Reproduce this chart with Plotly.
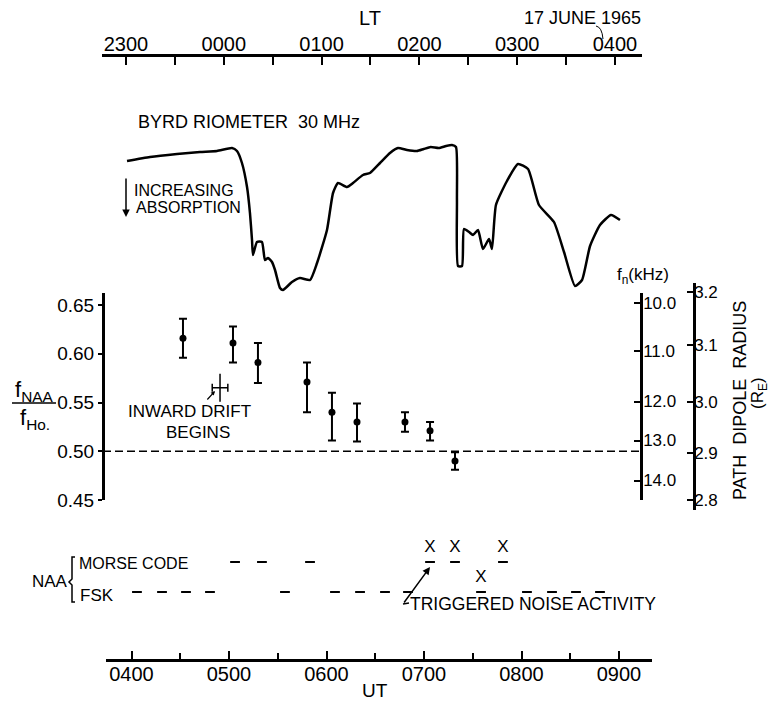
import plotly.graph_objects as go

W, H = 771, 702

# ---------------- data ----------------
ut_tick_vals = [4, 5, 6, 7, 8, 9]
ut_tick_text = ["0400", "0500", "0600", "0700", "0800", "0900"]
ut_minor_vals = [4.5, 5.5, 6.5, 7.5, 8.5]
lt_tick_vals = [-1, 0, 1, 2, 3, 4]
lt_tick_text = ["2300", "0000", "0100", "0200", "0300", "0400"]
lt_minor_vals = [-0.5, 0.5, 1.5, 2.5, 3.5]

# Byrd riometer 30 MHz (UT hours, relative signal level, arbitrary units)
rio_ut = [3.954, 4.190, 4.467, 4.703, 4.877, 5.031, 5.082, 5.133, 5.185, 5.215,
          5.236, 5.246, 5.287, 5.338, 5.369, 5.400, 5.441, 5.472, 5.523, 5.554,
          5.646, 5.728, 5.831, 5.903, 6.005, 6.067, 6.118, 6.210, 6.272, 6.374,
          6.446, 6.549, 6.651, 6.733, 6.826, 6.928, 6.997, 7.069, 7.151, 7.226,
          7.287, 7.328, 7.338, 7.349, 7.390, 7.410, 7.462, 7.503, 7.554, 7.605,
          7.667, 7.697, 7.738, 7.851, 7.964, 8.067, 8.179, 8.333, 8.436, 8.549,
          8.621, 8.703, 8.805, 8.918, 9.010]
rio_level = [13.9, 14.3, 14.6, 14.8, 14.9, 15.2, 14.9, 13.7, 11.3, 8.7,
             6.0, 4.5, 5.8, 5.8, 4.0, 4.2, 3.8, 3.0, 1.2, 1.0,
             1.8, 2.2, 2.0, 3.7, 7.0, 10.7, 11.7, 11.3, 11.7, 12.5,
             12.7, 13.7, 14.7, 15.2, 15.0, 14.9, 15.1, 15.3, 15.2, 15.4,
             15.5, 15.3, 10.0, 3.4, 3.4, 7.1, 6.8, 6.5, 7.0, 5.1,
             6.1, 5.1, 9.5, 11.9, 13.6, 13.1, 9.5, 7.8, 4.8, 1.4,
             2.0, 5.4, 7.5, 8.5, 8.0]

# f_NAA / f_H0 ratio with error bars
ratio_ut = [4.528, 5.041, 5.297, 5.800, 6.056, 6.313, 6.805, 7.062, 7.318]
ratio_val = [0.616, 0.611, 0.591, 0.571, 0.540, 0.530, 0.530, 0.521, 0.490]
ratio_err_plus = [0.020, 0.017, 0.020, 0.020, 0.020, 0.019, 0.010, 0.009, 0.009]
ratio_err_minus = [0.020, 0.020, 0.021, 0.031, 0.029, 0.020, 0.010, 0.010, 0.009]

drift_ut = [4.908]
drift_ratio = [0.565]
drift_ut_err = [0.08]

ratio_ref = 0.50
ratio_tick_vals = [0.45, 0.50, 0.55, 0.60, 0.65]
ratio_tick_text = ["0.45", "0.50", "0.55", "0.60", "0.65"]
fn_tick_text = ["10.0", "11.0", "12.0", "13.0", "14.0"]
fn_tick_ratio = [0.652, 0.603, 0.551, 0.511, 0.470]
radius_tick_text = ["3.2", "3.1", "3.0", "2.9", "2.8"]
radius_tick_ratio = [0.6636, 0.609, 0.5505, 0.4982, 0.450]

# NAA transmissions (UT hours)
morse_ut = [5.062, 5.338, 5.831]
fsk_ut = [4.056, 4.313, 4.559, 4.805, 5.574, 6.087, 6.344, 6.600, 6.836,
          8.056, 8.313, 8.559, 8.805]
morse_noise_ut = [7.062, 7.318, 7.810]
fsk_noise_ut = [7.585]
MORSE_LEVEL = 1
FSK_LEVEL = 0

# ---------------- layout helpers ----------------
def px(x):
    return x / W


def py(y):
    return 1 - y / H


NUM_FONT = "Liberation Sans, Arial, sans-serif"
TXT_FONT = "Liberation Sans, Arial, sans-serif"

fig = go.Figure()

# riometer
fig.add_trace(go.Scatter(
    x=rio_ut, y=rio_level, xaxis="x", yaxis="y2", mode="lines",
    line=dict(color="black", width=2.5, shape="spline", smoothing=0.5),
    hoverinfo="skip", showlegend=False))

# ratio points
fig.add_trace(go.Scatter(
    x=ratio_ut, y=ratio_val, xaxis="x", yaxis="y", mode="markers",
    marker=dict(color="black", size=7),
    error_y=dict(type="data", symmetric=False, array=ratio_err_plus,
                 arrayminus=ratio_err_minus, color="black", thickness=2, width=4),
    showlegend=False))

# inward drift marker
fig.add_trace(go.Scatter(
    x=drift_ut, y=drift_ratio, xaxis="x", yaxis="y", mode="markers",
    marker=dict(symbol="line-ns", size=20, line=dict(color="black", width=1.5)),
    error_x=dict(type="data", array=drift_ut_err, color="black", thickness=1.5, width=4),
    showlegend=False))

# NAA dashes
fig.add_trace(go.Scatter(
    x=morse_ut, y=[MORSE_LEVEL] * len(morse_ut), xaxis="x", yaxis="y3", mode="markers",
    marker=dict(symbol="line-ew", size=7, line=dict(color="black", width=2)),
    showlegend=False))
fig.add_trace(go.Scatter(
    x=fsk_ut, y=[FSK_LEVEL] * len(fsk_ut), xaxis="x", yaxis="y3", mode="markers",
    marker=dict(symbol="line-ew", size=7, line=dict(color="black", width=2)),
    showlegend=False))
# triggered noise (X over a dash)
fig.add_trace(go.Scatter(
    x=morse_noise_ut + fsk_noise_ut,
    y=[MORSE_LEVEL] * len(morse_noise_ut) + [FSK_LEVEL] * len(fsk_noise_ut),
    xaxis="x", yaxis="y3", mode="markers+text", text=["X"] * 4,
    textposition="top center",
    textfont=dict(family=TXT_FONT, size=17, color="black"),
    marker=dict(symbol="line-ew", size=7, line=dict(color="black", width=2)),
    cliponaxis=False, showlegend=False))

# invisible anchors so extra axes are drawn
fig.add_trace(go.Scatter(x=[0], y=[0.5], xaxis="x2", yaxis="y", mode="markers",
                         marker=dict(opacity=0), hoverinfo="skip", showlegend=False))
fig.add_trace(go.Scatter(x=[5], y=[0.5], xaxis="x", yaxis="y4", mode="markers",
                         marker=dict(opacity=0), hoverinfo="skip", showlegend=False))
fig.add_trace(go.Scatter(x=[5], y=[0.5], xaxis="x", yaxis="y5", mode="markers",
                         marker=dict(opacity=0), hoverinfo="skip", showlegend=False))

axis_common = dict(showgrid=False, zeroline=False, showline=True, linecolor="black",
                   tickcolor="black", fixedrange=True, automargin=False)

ratio_range = [0.45, 0.6623]

fig.update_layout(
    width=W, height=H, margin=dict(l=0, r=0, t=0, b=0, pad=0, autoexpand=False),
    paper_bgcolor="white", plot_bgcolor="rgba(0,0,0,0)", showlegend=False,
    xaxis=dict(**axis_common, domain=[px(106), px(652)], range=[3.7385, 9.3385],
               anchor="free", position=py(660), side="bottom", linewidth=3,
               ticks="inside", ticklen=8, tickwidth=1.5,
               tickmode="array", tickvals=ut_tick_vals, ticktext=ut_tick_text,
               ticklabelstandoff=-5,
               tickfont=dict(family=NUM_FONT, size=20, color="black"),
               minor=dict(tickmode="array", tickvals=ut_minor_vals, ticks="inside",
                          ticklen=6, tickwidth=1.5, tickcolor="black")),
    xaxis2=dict(**axis_common, domain=[px(102), px(642)], range=[-1.245, 4.276],
                anchor="free", position=py(55), side="top", linewidth=3,
                ticks="inside", ticklen=8, tickwidth=1.5,
                tickmode="array", tickvals=lt_tick_vals, ticktext=lt_tick_text,
                ticklabelstandoff=-5,
                tickfont=dict(family=NUM_FONT, size=20, color="black"),
                minor=dict(tickmode="array", tickvals=lt_minor_vals, ticks="inside",
                           ticklen=8, tickwidth=1.5, tickcolor="black")),
    yaxis=dict(**axis_common, domain=[py(500), py(293)], range=ratio_range,
               anchor="free", position=px(103), side="left", linewidth=3,
               ticks="outside", ticklen=4, tickwidth=1.5,
               tickmode="array", tickvals=ratio_tick_vals, ticktext=ratio_tick_text,
               tickfont=dict(family=NUM_FONT, size=19, color="black")),
    yaxis2=dict(domain=[py(300), py(130)], range=[0, 17], visible=False,
                fixedrange=True, automargin=False),
    yaxis3=dict(domain=[py(620), py(530)], range=[-0.933, 2.067], visible=False,
                fixedrange=True, automargin=False),
    yaxis4=dict(**axis_common, overlaying="y", range=ratio_range, anchor="free",
                position=px(641), side="right", linewidth=2.5,
                ticks="inside", ticklen=6, tickwidth=1.5,
                tickmode="array", tickvals=fn_tick_ratio, ticktext=fn_tick_text,
                ticklabelstandoff=-3,
                tickfont=dict(family=NUM_FONT, size=17, color="black")),
    yaxis5=dict(**axis_common, domain=[py(510), py(283)], range=[0.4397, 0.6726],
                anchor="free", position=px(694), side="right", linewidth=2.5,
                ticks="inside", ticklen=6, tickwidth=1.5,
                tickmode="array", tickvals=radius_tick_ratio, ticktext=radius_tick_text,
                ticklabelstandoff=-5,
                tickfont=dict(family=NUM_FONT, size=17, color="black")),
)

# ---------------- shapes ----------------
shapes = []
# dashed reference line at ratio 0.50
shapes.append(dict(type="line", xref="paper", yref="y", x0=px(103), x1=px(641),
                   y0=ratio_ref, y1=ratio_ref,
                   line=dict(color="black", width=1.5, dash="8px,4px")))
# fraction bar
shapes.append(dict(type="line", xref="paper", yref="paper", x0=px(12), x1=px(56),
                   y0=py(403), y1=py(403), line=dict(color="black", width=1.5)))
# NAA brace
bp = [(75, 557), (72, 557), (72, 579), (69, 582), (72, 585), (72, 602), (75, 602)]
path = "M " + " L ".join(f"{px(a):.5f},{py(b):.5f}" for a, b in bp)
shapes.append(dict(type="path", xref="paper", yref="paper", path=path,
                   line=dict(color="black", width=1.5)))
# leader from date to 0400
shapes.append(dict(type="path", xref="paper", yref="paper",
                   path=f"M {px(596):.5f},{py(26):.5f} Q {px(602):.5f},{py(27):.5f} {px(603):.5f},{py(39):.5f}",
                   line=dict(color="black", width=1)))
# foot of triggered noise arrow
shapes.append(dict(type="line", xref="paper", yref="paper", x0=px(403), x1=px(409),
                   y0=py(604), y1=py(603), line=dict(color="black", width=1.5)))
fig.update_layout(shapes=shapes)

# ---------------- annotations ----------------
def txt(text, x, y, size=19, xanchor="center", family=TXT_FONT, angle=0):
    return dict(text=text, x=px(x), y=py(y), xref="paper", yref="paper",
                xanchor=xanchor, yanchor="middle", showarrow=False, textangle=angle,
                font=dict(family=family, size=size, color="black"))


anns = [
    txt("LT", 370, 18, 20, family=NUM_FONT),
    txt("17 JUNE 1965", 582, 18, 18),
    txt("BYRD RIOMETER  30 MHz", 249, 122, 18),
    txt("INCREASING", 132, 190, 16, xanchor="left"),
    txt("ABSORPTION", 134, 207, 16, xanchor="left"),
    txt("f<sub>NAA</sub>", 34, 391, 22),
    txt("f<sub>Ho.</sub>", 35, 419, 22),
    txt("INWARD DRIFT", 189, 412, 17),
    txt("BEGINS", 198, 432, 17),
    txt("f<sub>n</sub>(kHz)", 643, 276, 17),
    txt("PATH  DIPOLE  RADIUS", 740, 401, 18, angle=-90),
    txt("(R<sub>E</sub>)", 759, 393, 17, angle=-90),
    txt("NAA", 50, 581, 17),
    txt("MORSE CODE", 77, 563, 16, xanchor="left"),
    txt("FSK", 78, 595, 17, xanchor="left"),
    txt("TRIGGERED NOISE ACTIVITY", 408, 604, 17.5, xanchor="left"),
    txt("UT", 375, 690, 19, family=NUM_FONT),
]
# arrows
anns.append(dict(x=px(126), y=py(217), xref="paper", yref="paper", text="",
                 showarrow=True, ax=0, ay=-40, arrowhead=2, arrowsize=1,
                 arrowwidth=1.5, arrowcolor="black"))
anns.append(dict(x=px(215), y=py(391), xref="paper", yref="paper", text="",
                 showarrow=True, ax=-9, ay=10, arrowhead=2, arrowsize=0.7,
                 arrowwidth=1.2, arrowcolor="black"))
anns.append(dict(x=px(430), y=py(567), xref="paper", yref="paper", text="",
                 showarrow=True, ax=-27, ay=37, arrowhead=2, arrowsize=1,
                 arrowwidth=1.5, arrowcolor="black"))
fig.update_layout(annotations=anns)

# the page's default 8px body margin would shift the figure; remove it
fig.write_html("out.html", config={"displayModeBar": False},
               post_script="document.body.style.margin='0';document.body.style.overflow='hidden';")
